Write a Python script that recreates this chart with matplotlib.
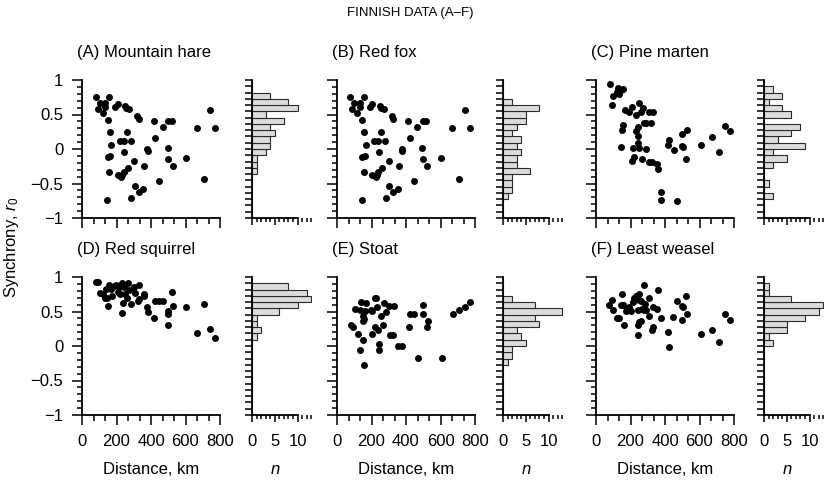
import matplotlib
matplotlib.use("Agg")
import matplotlib.pyplot as plt
import numpy as np
from matplotlib.ticker import MultipleLocator, NullFormatter, FixedLocator

plt.rcParams["font.family"] = ["Liberation Sans", "DejaVu Sans"]
plt.rcParams["mathtext.fontset"] = "custom"
plt.rcParams["mathtext.rm"] = "Liberation Sans"
plt.rcParams["mathtext.it"] = "Liberation Sans:italic"
plt.rcParams["axes.linewidth"] = 1.3

FIG_W, FIG_H = 825, 483

TITLES = [
    "(A) Mountain hare", "(B) Red fox", "(C) Pine marten",
    "(D) Red squirrel", "(E) Stoat", "(F) Least weasel",
]

# pairwise distance (km) and synchrony r0 for each species
HARE_KM = [81, 102, 93, 120, 131, 135, 158, 150, 160, 170, 193, 206, 247, 256, 274,
           318, 329, 260, 218, 241, 283, 241, 150, 164, 158, 206, 226, 233, 241, 264,
           303, 361, 376, 380, 307, 328, 355, 285, 145, 420, 426, 467, 501, 522, 497,
           499, 526, 445, 605, 667, 740, 771, 708]
HARE_R = [0.75, 0.67, 0.58, 0.52, 0.67, 0.61, 0.76, 0.42, 0.24, 0.06, 0.61, 0.65, 0.63,
          0.60, 0.58, 0.48, 0.44, 0.25, 0.11, 0.12, 0.11, -0.04, -0.12, -0.10, -0.34,
          -0.38, -0.41, -0.38, -0.34, -0.27, -0.17, -0.24, 0.00, -0.03, -0.54, -0.63,
          -0.58, -0.71, -0.74, 0.41, 0.16, 0.32, 0.40, 0.41, 0.01, -0.14, -0.25, -0.46,
          -0.13, 0.31, 0.57, 0.31, -0.44]

FOX_KM = [77, 98, 89, 116, 131, 131, 154, 147, 156, 168, 193, 204, 249, 257, 270,
          318, 326, 257, 214, 237, 281, 241, 145, 160, 156, 204, 224, 231, 237, 262,
          303, 357, 374, 374, 303, 324, 351, 285, 143, 414, 422, 464, 496, 518, 495,
          497, 524, 445, 603, 667, 740, 769, 705]
FOX_R = [0.75, 0.67, 0.58, 0.52, 0.67, 0.61, 0.76, 0.42, 0.24, 0.06, 0.61, 0.65, 0.63,
         0.60, 0.58, 0.48, 0.44, 0.25, 0.11, 0.12, 0.11, -0.04, -0.12, -0.10, -0.34,
         -0.38, -0.41, -0.38, -0.34, -0.27, -0.17, -0.24, 0.00, -0.03, -0.54, -0.63,
         -0.58, -0.71, -0.74, 0.41, 0.16, 0.32, 0.40, 0.41, 0.01, -0.14, -0.25, -0.46,
         -0.13, 0.31, 0.57, 0.31, -0.44]

MARTEN_KM = [80, 130, 144, 155, 120, 101, 134, 91, 171, 194, 208, 231, 252, 262, 270,
             305, 330, 276, 291, 318, 159, 152, 241, 229, 241, 241, 252, 217, 144, 287,
             219, 206, 264, 305, 326, 355, 359, 379, 377, 468, 418, 425, 451, 501, 528,
             501, 505, 524, 608, 674, 715, 746, 777]
MARTEN_R = [0.94, 0.89, 0.86, 0.87, 0.82, 0.77, 0.80, 0.64, 0.57, 0.54, 0.61, 0.50,
            0.67, 0.53, 0.59, 0.53, 0.53, 0.37, 0.38, 0.37, 0.35, 0.27, 0.32, 0.26,
            0.19, 0.08, 0.02, 0.01, 0.03, 0.00, -0.11, -0.17, -0.15, -0.19, -0.19,
            -0.22, -0.29, -0.62, -0.74, -0.75, 0.06, 0.13, -0.02, 0.22, 0.27, 0.05,
            0.03, -0.15, 0.06, 0.17, -0.04, 0.34, 0.26]

SQUIRREL_KM = [83, 94, 102, 121, 131, 145, 139, 156, 168, 150, 183, 195, 206, 218,
               231, 241, 251, 260, 266, 274, 283, 237, 233, 295, 308, 303, 328, 322,
               330, 357, 361, 374, 380, 418, 424, 447, 467, 497, 501, 497, 521, 528,
               605, 667, 708, 740, 771, 174, 212]
SQUIRREL_R = [0.93, 0.93, 0.77, 0.75, 0.70, 0.69, 0.82, 0.89, 0.83, 0.58, 0.87, 0.89,
              0.78, 0.76, 0.92, 0.85, 0.76, 0.70, 0.92, 0.81, 0.61, 0.62, 0.48, 0.82,
              0.77, 0.85, 0.89, 0.65, 0.68, 0.76, 0.73, 0.57, 0.49, 0.40, 0.65, 0.65,
              0.65, 0.51, 0.47, 0.31, 0.78, 0.58, 0.56, 0.19, 0.61, 0.24, 0.12, 0.73,
              0.85]

STOAT_KM = [79, 93, 103, 122, 134, 132, 141, 151, 157, 151, 157, 170, 161, 196, 205,
            219, 219, 228, 232, 238, 242, 242, 254, 267, 273, 285, 302, 331, 310, 322,
            356, 378, 417, 422, 446, 467, 496, 500, 527, 521, 606, 670, 709, 742, 773,
            205, 151]
STOAT_R = [0.31, 0.28, 0.53, 0.17, -0.06, 0.52, 0.64, 0.44, 0.39, 0.08, -0.28, 0.62,
           0.51, 0.52, 0.18, 0.28, 0.69, 0.69, 0.56, 0.23, 0.03, -0.06, 0.44, 0.30,
           0.63, 0.50, 0.58, 0.58, 0.16, 0.16, 0.00, 0.00, 0.27, 0.46, 0.46, -0.18,
           0.59, 0.47, 0.36, 0.28, -0.17, 0.47, 0.52, 0.56, 0.64, 0.51, 0.36]

WEASEL_KM = [78, 91, 101, 124, 136, 150, 146, 159, 163, 175, 194, 204, 212, 219, 233,
             249, 252, 262, 241, 266, 276, 285, 291, 305, 307, 243, 252, 260, 243, 324,
             330, 330, 353, 361, 379, 418, 425, 449, 468, 501, 505, 522, 528, 501, 608,
             674, 715, 746, 777, 155, 276]
WEASEL_R = [0.59, 0.66, 0.52, 0.40, 0.40, 0.76, 0.60, 0.59, 0.30, 0.51, 0.56, 0.51,
            0.64, 0.69, 0.72, 0.76, 0.66, 0.65, 0.52, 0.53, 0.88, 0.61, 0.52, 0.70,
            0.44, 0.31, 0.35, 0.36, 0.16, 0.23, 0.27, 0.57, 0.53, 0.81, 0.40, 0.20,
            -0.01, 0.42, 0.65, 0.58, 0.56, 0.73, 0.46, 0.37, 0.18, 0.23, 0.06, 0.46,
            0.37, 0.60, 0.52]

# histogram of r0: 0.1-wide bins, listed from the top bin (1.1..1.0) downwards
BIN_EDGES = np.round(np.linspace(-1.1, 1.1, 23), 2)
HARE_N = [0, 0, 4, 8, 10, 3, 7, 4, 5, 4, 4, 3, 1, 1, 1, 0, 0, 0, 0, 0, 0, 0]
FOX_N = [0, 0, 0, 2, 8, 5, 5, 3, 2, 4, 3, 4, 3, 3, 6, 2, 2, 2, 1, 0, 0, 0]
MARTEN_N = [0, 2, 4, 1, 4, 6, 0, 8, 6, 3, 9, 2, 5, 2, 0, 0, 1, 0, 2, 0, 0, 0]
SQUIRREL_N = [0, 8, 12, 13, 10, 6, 1, 1, 2, 1, 0, 0, 0, 0, 0, 0, 0, 0, 0, 0, 0, 0]
STOAT_N = [0, 0, 0, 2, 7, 13, 7, 8, 3, 4, 5, 2, 2, 1, 0, 0, 0, 0, 0, 0, 0, 0]
WEASEL_N = [0, 1, 1, 6, 13, 12, 9, 5, 5, 1, 2, 0, 0, 0, 0, 0, 0, 0, 0, 0, 0, 0]

SCATTER = [(HARE_KM, HARE_R), (FOX_KM, FOX_R), (MARTEN_KM, MARTEN_R),
           (SQUIRREL_KM, SQUIRREL_R), (STOAT_KM, STOAT_R), (WEASEL_KM, WEASEL_R)]
HISTS = [HARE_N, FOX_N, MARTEN_N, SQUIRREL_N, STOAT_N, WEASEL_N]

# layout in pixels
SCATTER_LEFT = [82, 337, 596]
HIST_LEFT = [252, 503, 764]
ROW_TOP = [80, 277]
PANEL_H = 138
SCATTER_W = 138
HIST_PX_PER_N = 4.56
HIST_XMAX = 13.2


def px_axes(fig, left, top, width, height):
    return fig.add_axes([left / FIG_W, 1 - (top + height) / FIG_H,
                         width / FIG_W, height / FIG_H])


def style_scatter(ax, show_x, show_y):
    for side in ("top", "right"):
        ax.spines[side].set_visible(False)
    ax.set_xlim(0, 800)
    ax.set_ylim(-1, 1)
    ax.xaxis.set_major_locator(MultipleLocator(200))
    ax.xaxis.set_minor_locator(MultipleLocator(200 / 3))
    ax.yaxis.set_major_locator(MultipleLocator(0.5))
    ax.yaxis.set_minor_locator(MultipleLocator(0.1))
    ax.tick_params(which="major", direction="out", length=7, width=1.1,
                   labelsize=12, pad=6.5)
    ax.tick_params(axis="x", which="minor", direction="out", length=4.3, width=1.1)
    ax.tick_params(axis="y", which="minor", direction="out", length=3.6, width=1.1)
    ax.yaxis.set_major_formatter(
        plt.FuncFormatter(lambda v, _: "%g" % v if v >= 0 else "\u2212%g" % -v))
    if not show_x:
        ax.xaxis.set_major_formatter(NullFormatter())
    if not show_y:
        ax.yaxis.set_major_formatter(NullFormatter())


def style_hist(ax, show_x):
    for side in ("top", "right"):
        ax.spines[side].set_visible(False)
    ax.spines["bottom"].set_bounds(0, 10)
    ax.set_xlim(0, HIST_XMAX)
    ax.set_ylim(-1.1, 1.1)
    ax.xaxis.set_major_locator(FixedLocator([0, 5, 10]))
    ax.xaxis.set_minor_locator(MultipleLocator(1))
    ax.yaxis.set_major_locator(FixedLocator(BIN_EDGES))
    ax.yaxis.set_major_formatter(NullFormatter())
    ax.tick_params(axis="x", which="major", direction="out", length=5, width=1.1,
                   labelsize=12, pad=8.7)
    ax.tick_params(axis="x", which="minor", direction="out", length=3, width=1.1)
    ax.tick_params(axis="y", which="major", direction="out", length=5, width=1.1)
    if not show_x:
        ax.xaxis.set_major_formatter(NullFormatter())


fig = plt.figure(figsize=(FIG_W / 100, FIG_H / 100), dpi=100)
centers = (BIN_EDGES[:-1] + BIN_EDGES[1:]) / 2

for i in range(6):
    row, col = divmod(i, 3)
    top = ROW_TOP[row]
    ax = px_axes(fig, SCATTER_LEFT[col], top, SCATTER_W, PANEL_H)
    km, r = SCATTER[i]
    ax.scatter(km, r, s=25, color="black", linewidths=0, clip_on=False, zorder=3)
    style_scatter(ax, show_x=row == 1, show_y=col == 0)

    hx = px_axes(fig, HIST_LEFT[col], top, HIST_XMAX * HIST_PX_PER_N, PANEL_H)
    hx.barh(centers, HISTS[i][::-1], height=0.1, color="#dcdcdc",
            edgecolor="#2a2a2a", linewidth=0.8)
    style_hist(hx, show_x=row == 1)

    fig.text((SCATTER_LEFT[col] - 5) / FIG_W, 1 - (top - 23) / FIG_H, TITLES[i],
             fontsize=12, ha="left", va="baseline")

    if row == 1:
        fig.text((SCATTER_LEFT[col] + SCATTER_W / 2) / FIG_W, 1 - 474 / FIG_H,
                 "Distance, km", fontsize=12, ha="center", va="baseline")
        fig.text((HIST_LEFT[col] + 5 * HIST_PX_PER_N) / FIG_W, 1 - 474 / FIG_H,
                 "$n$", fontsize=12, ha="center", va="baseline")

fig.text(410 / FIG_W, 1 - 13 / FIG_H, "FINNISH DATA (A\u2013F)", fontsize=9.5,
         ha="center", va="center")
fig.text(12 / FIG_W, 1 - 247 / FIG_H, "Synchrony, $r_0$", fontsize=12,
         rotation=90, ha="center", va="center")

fig.savefig("out.png", dpi=100)
